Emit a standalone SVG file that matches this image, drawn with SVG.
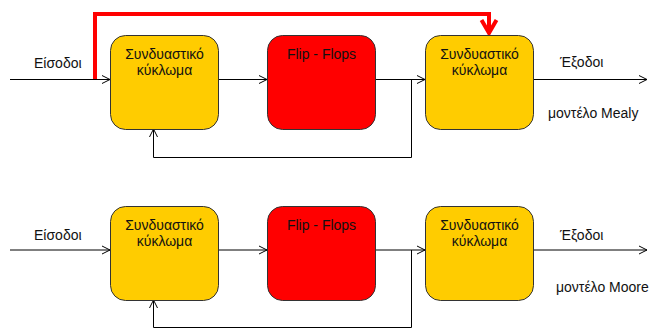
<svg xmlns="http://www.w3.org/2000/svg" width="649" height="329" viewBox="0 0 649 329">
  <defs>
    <style>
      .comb { fill: #FFCC00; stroke: #333333; stroke-width: 1; }
      .ff { fill: #FF0000; stroke: #333333; stroke-width: 1; }
      .lbl { font-family: "Liberation Sans", Arial, sans-serif; font-size: 14px; fill: #111111; }
      .mid { text-anchor: middle; }
      .wire { fill: none; stroke: #000000; stroke-width: 1; }
      .arr { marker-end: url(#open); }
      .bypass { fill: none; stroke: #FF0000; stroke-width: 4; marker-end: url(#redhead); }
    </style>
    <marker id="open" markerUnits="userSpaceOnUse" viewBox="-1 -1 10 10" markerWidth="10" markerHeight="10" refX="8" refY="4" orient="auto" overflow="visible">
      <path d="M0,0 L8,4 L0,8" fill="none" stroke="#000000" stroke-width="1"/>
    </marker>
    <marker id="redhead" markerUnits="userSpaceOnUse" viewBox="-2 -2 18 20" markerWidth="18" markerHeight="20" refX="13" refY="7.5" orient="auto" overflow="visible">
      <path d="M0,0 L13,7.5 L0,15" fill="none" stroke="#FF0000" stroke-width="4"/>
    </marker>
  </defs>

  <rect width="649" height="329" fill="#FFFFFF"/>

  <!-- wiring for both machines -->
  <g id="connectors">
    <!-- Mealy -->
    <path class="wire arr" d="M10,79.5 H110"/>
    <path class="wire arr" d="M218,79.5 H267"/>
    <path class="wire arr" d="M375,79.5 H425"/>
    <path class="wire arr" d="M533,79.5 H647"/>
    <path class="wire arr" d="M411.5,79.5 V157.5 H153.5 V129"/>
    <path class="bypass" d="M95,79 V14 H489 V33"/>
    <!-- Moore -->
    <path class="wire arr" d="M10,250 H110"/>
    <path class="wire arr" d="M218,250 H267"/>
    <path class="wire arr" d="M375,250 H425"/>
    <path class="wire arr" d="M533,250 H647"/>
    <path class="wire arr" d="M411.5,250 V327.5 H153.5 V300"/>
  </g>

  <!-- Mealy machine -->
  <g id="mealy-comb-in">
    <rect class="comb" x="110.5" y="35.5" width="108" height="94" rx="15"/>
    <text class="lbl mid" x="164.5" y="59">Συνδυαστικό</text>
    <text class="lbl mid" x="164.5" y="75">κύκλωμα</text>
  </g>
  <g id="mealy-ff">
    <rect class="ff" x="267.5" y="35.5" width="108" height="94" rx="15"/>
    <text class="lbl mid" x="321.5" y="59">Flip - Flops</text>
  </g>
  <g id="mealy-comb-out">
    <rect class="comb" x="425.5" y="35.5" width="108" height="94" rx="15"/>
    <text class="lbl mid" x="479.5" y="59">Συνδυαστικό</text>
    <text class="lbl mid" x="479.5" y="75">κύκλωμα</text>
  </g>
  <g id="mealy-labels">
    <text class="lbl" x="34" y="68">Είσοδοι</text>
    <text class="lbl" x="560" y="67">Έξοδοι</text>
    <text class="lbl" x="548" y="118">μοντέλο Mealy</text>
  </g>

  <!-- Moore machine -->
  <g id="moore-comb-in">
    <rect class="comb" x="110.5" y="206.5" width="108" height="94" rx="15"/>
    <text class="lbl mid" x="164.5" y="230">Συνδυαστικό</text>
    <text class="lbl mid" x="164.5" y="246">κύκλωμα</text>
  </g>
  <g id="moore-ff">
    <rect class="ff" x="267.5" y="206.5" width="108" height="94" rx="15"/>
    <text class="lbl mid" x="321.5" y="230">Flip - Flops</text>
  </g>
  <g id="moore-comb-out">
    <rect class="comb" x="425.5" y="206.5" width="108" height="94" rx="15"/>
    <text class="lbl mid" x="479.5" y="230">Συνδυαστικό</text>
    <text class="lbl mid" x="479.5" y="246">κύκλωμα</text>
  </g>
  <g id="moore-labels">
    <text class="lbl" x="34" y="240">Είσοδοι</text>
    <text class="lbl" x="560" y="240">Έξοδοι</text>
    <text class="lbl" x="556" y="292">μοντέλο Moore</text>
  </g>
</svg>
